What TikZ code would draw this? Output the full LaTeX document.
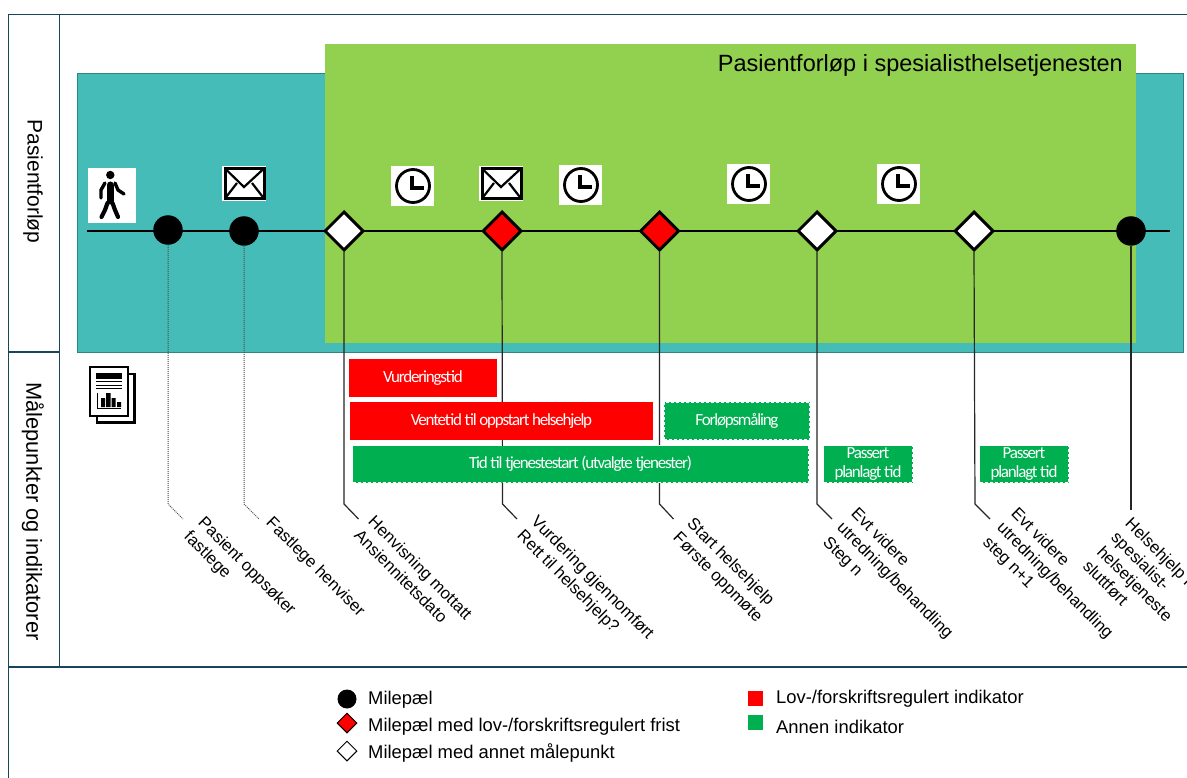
\documentclass[tikz,border=0pt]{standalone}
\usepackage{fontspec}
\setmainfont{Liberation Sans}
\newfontfamily\barfont[LetterSpace=-7]{Carlito}
\usetikzlibrary{shapes.geometric}
\definecolor{frameC}{HTML}{17465A}
\definecolor{tealC}{HTML}{45BCB8}
\definecolor{limeC}{HTML}{92D050}
\definecolor{okC}{HTML}{00B050}
\definecolor{redC}{HTML}{FF0000}
\tikzset{
  x=1pt,y=-1pt,
  frameline/.style={draw=frameC,line width=1.2pt},
  milestone/.style={circle,fill=black,draw=none,minimum size=29.5pt,inner sep=0pt},
  diam/.style={diamond,draw=black,line width=3pt,minimum size=39pt,inner sep=0pt,aspect=1},
  whitediam/.style={diam,fill=white},
  reddiam/.style={diam,fill=redC},
  drop/.style={draw=black!85,line width=1.2pt},
  dropdot/.style={draw=black!70,line width=1pt,densely dotted},
  redbar/.style={fill=redC,draw=none,text=white,inner sep=0pt,font=\barfont\fontsize{17}{19}\selectfont,align=center},
  greenbar/.style={fill=okC,draw=white,line width=1.6pt,dash pattern=on 3pt off 2pt,text=white,inner sep=0pt,font=\barfont\fontsize{17}{19}\selectfont,align=center},
  slanted/.style={rotate=-45,anchor=north west,align=left,inner sep=0pt,font=\fontsize{16.7}{20}\selectfont},
  sidelabel/.style={rotate=-90,inner sep=0pt},
  legendtext/.style={anchor=west,inner sep=0pt,font=\fontsize{18.4}{20}\selectfont},
}
\newcommand{\clockicon}[2]{%
  \begin{scope}[shift={(#1,#2)}]
    \fill[white] (-22,-20) rectangle (21,20);
    \draw[black,line width=2.8pt] (0,0) circle[radius=16.5];
    \draw[black,line width=3.2pt] (-1,-10) -- (-1,2) -- (11,2);
  \end{scope}}
\newcommand{\envicon}[2]{%
  \begin{scope}[shift={(#1,#2)}]
    \fill[white] (0,0) rectangle (44,35);
    \draw[black,line width=3pt] (3,2.5) rectangle (42,32.5);
    \draw[black,line width=2.2pt] (3,2.5) -- (22,21) -- (42,2.5);
    \draw[black,line width=2.2pt] (3,32.5) -- (15,17);
    \draw[black,line width=2.2pt] (42,32.5) -- (30,17);
  \end{scope}}
\begin{document}
\begin{tikzpicture}
\useasboundingbox (0,0) rectangle (1187,778);
\fill[white] (0,0) rectangle (1187,778);
% frame
\draw[frameline] (8.5,778) -- (8.5,14.5) -- (1187,14.5);
\draw[frameline] (59.5,14.5) -- (59.5,667);
\draw[frameline] (8.5,352) -- (59.5,352);
\draw[frameline] (8.5,667) -- (1187,667);
\node[sidelabel,font=\fontsize{21}{24}\selectfont] (lab1) at (33,181.5) {Pasientforløp};
\node[sidelabel,font=\fontsize{21.8}{24}\selectfont] (lab2) at (33,511.5) {Målepunkter og indikatorer};
% bands
\fill[tealC] (77,74) rectangle (1183,352);
\draw[black!30!tealC,line width=1pt] (77,74) rectangle (1183,352);
\fill[limeC] (325,44) rectangle (1136,343);
\node[anchor=base east,inner sep=0pt,font=\fontsize{23.5}{26}\selectfont] (title) at (1123,72) {Pasientforløp i spesialisthelsetjenesten};
% icons
\fill[white] (88,168) rectangle (136,223);
\fill[black] (110.3,175) circle[radius=4.2];
\draw[black,line width=7pt,line cap=round] (110,185) -- (110,201);
\draw[black,line width=3.4pt,line cap=round] (105,183) -- (101,190) -- (101,198);
\draw[black,line width=3.4pt,line cap=round] (115,183) -- (118,190) -- (124,194);
\draw[black,line width=4.2pt,line cap=round] (107.5,203) -- (105,210) -- (101.5,217);
\draw[black,line width=4.2pt,line cap=round] (112.5,203) -- (115,210) -- (118,217);
\envicon{222}{166}
\envicon{479}{166}
\clockicon{413}{186}
\clockicon{581}{185}
\clockicon{749}{184}
\clockicon{899}{184}
% document icon
\draw[black,line width=2.3pt,fill=white] (97,374) rectangle (134.5,422.5);
\draw[black,line width=2.3pt,fill=white] (90,367) rectangle (128,416);
\fill[black] (96,373) rectangle (122,378.5);
\draw[black,line width=1pt] (96,381.5) -- (122,381.5) (96,385) -- (122,385) (96,388.5) -- (122,388.5);
\draw[black,line width=1pt] (97.5,393) -- (97.5,408.5) -- (121,408.5);
\fill[black] (101,398) rectangle (105,407) (106,393) rectangle (110.5,407) (111.5,398) rectangle (115.5,407) (117,402) rectangle (121,407);
% milestones
\coordinate (tstart) at (87,231);
\coordinate (tend) at (1170,231);
\draw[black,line width=2.4pt] (tstart) -- (tend);
\node[milestone] (m1) at (168,230) {};
\node[milestone] (m2) at (244,231) {};
\node[whitediam] (m3) at (344,231) {};
\node[reddiam] (m4) at (502,231) {};
\node[reddiam] (m5) at (659.5,231) {};
\node[whitediam] (m6) at (817,231) {};
\node[whitediam] (m7) at (974,231) {};
\node[milestone] (m8) at (1131,231) {};
% connectors
\coordinate (k1) at (168,504); \coordinate (e1) at (183,519);
\coordinate (k2) at (244,504); \coordinate (e2) at (259,519);
\coordinate (k3) at (344,504); \coordinate (e3) at (358.5,519);
\coordinate (k4) at (502.5,504); \coordinate (e4) at (517,519);
\coordinate (k5) at (659.5,504); \coordinate (e5) at (673.5,519);
\coordinate (k6) at (817,504); \coordinate (e6) at (832,519);
\coordinate (k7) at (975,504); \coordinate (e7) at (990,519);
\coordinate (e8) at (1131,510);
\draw[dropdot] (m1.south) -- (k1) -- (e1);
\draw[dropdot] (m2.south) -- (k2) -- (e2);
\draw[drop] (m3.south) -- (k3) -- (e3);
\draw[drop] (m4.south) -- (k4) -- (e4);
\draw[drop] (m5.south) -- (k5) -- (e5);
\draw[drop] (m6.south) -- (k6) -- (e6);
\draw[drop] (m7.south) -- (k7) -- (e7);
\draw[drop] (m8.south) -- (e8);
% indicators
\node[redbar,minimum width=148pt,minimum height=38pt] (b1) at (423,378) {Vurderingstid};
\node[redbar,minimum width=303pt,minimum height=38pt] (b2) at (501.5,421) {Ventetid til oppstart helsehjelp};
\node[greenbar,minimum width=456pt,minimum height=37pt] (b3) at (580.5,464) {Tid til tjenestestart (utvalgte tjenester)};
\node[greenbar,minimum width=146pt,minimum height=38pt] (b4) at (737,421) {Forløpsmåling};
\node[greenbar,minimum width=89pt,minimum height=37pt] (b5) at (868,464) {Passert\\planlagt tid};
\node[greenbar,minimum width=89pt,minimum height=37pt] (b6) at (1024,464) {Passert\\planlagt tid};
% slanted labels
\node[slanted] (t1) at (206,515) {Pasient oppsøker\\fastlege};
\node[slanted] (t2) at (274,515) {Fastlege henviser};
\node[slanted] (t3) at (376,514) {Henvisning mottatt\\Ansiennitetsdato};
\node[slanted] (t4) at (539,514) {Vurdering gjennomført\\Rett til helsehjelp?};
\node[slanted] (t5) at (695,516) {Start helsehjelp\\Første oppmøte};
\node[slanted] (t6) at (859,506) {Evt videre\\utredning/behandling\\Steg n};
\node[slanted] (t7) at (1019,506) {Evt videre\\utredning/behandling\\steg n+1};
\node[slanted] (t8) at (1133,516) {Helsehjelp i\\spesialist-\\helsetjeneste\\sluttført};
% legend
\node[milestone,minimum size=19pt] (l1) at (347,699) {};
\node[diamond,fill=redC,draw=black,line width=1pt,minimum size=20pt,inner sep=0pt] (l2) at (347,723) {};
\node[diamond,fill=white,draw=black,line width=1pt,minimum size=20pt,inner sep=0pt] (l3) at (347,751) {};
\node[legendtext] (lt1) at (368,700) {Milepæl};
\node[legendtext] (lt2) at (368,727) {Milepæl med lov-/forskriftsregulert frist};
\node[legendtext] (lt3) at (368,753) {Milepæl med annet målepunkt};
\fill[redC] (748,691) rectangle (763,706);
\fill[okC] (748,715) rectangle (763,730);
\node[legendtext] (lt4) at (776,699) {Lov-/forskriftsregulert indikator};
\node[legendtext] (lt5) at (776,727) {Annen indikator};
\end{tikzpicture}
\end{document}
